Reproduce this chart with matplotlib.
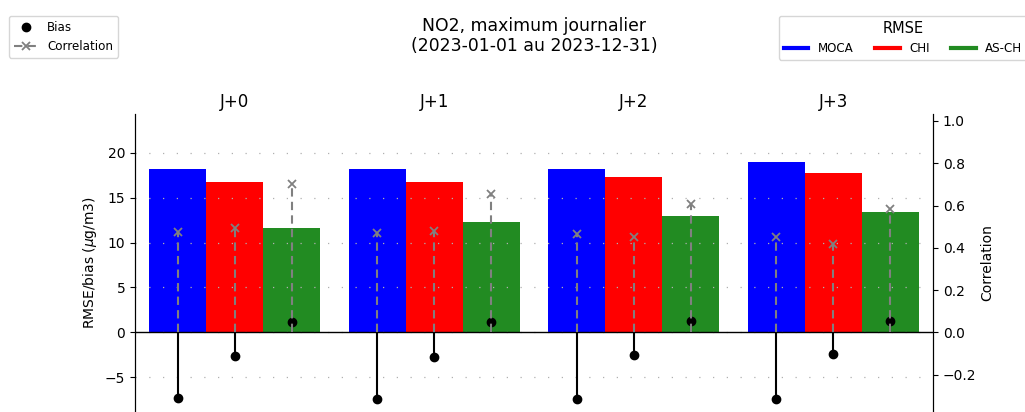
import numpy as np
import matplotlib
matplotlib.use("Agg")
from matplotlib import pyplot as plt
from matplotlib.lines import Line2D

# scores per lead day, one list per model
leads = ["J+0", "J+1", "J+2", "J+3"]
models = ["MOCA", "CHI", "AS-CH"]
colors = ["blue", "red", "forestgreen"]

rmse_moca = [18.2, 18.2, 18.2, 18.95]
rmse_chi = [16.7, 16.75, 17.35, 17.7]
rmse_asch = [11.6, 12.3, 12.95, 13.4]

bias_moca = [-7.35, -7.39, -7.39, -7.39]
bias_chi = [-2.6, -2.71, -2.53, -2.42]
bias_asch = [1.1, 1.15, 1.25, 1.3]

corr_moca = [0.473, 0.468, 0.464, 0.451]
corr_chi = [0.492, 0.481, 0.451, 0.419]
corr_asch = [0.702, 0.654, 0.606, 0.582]

rmse = [rmse_moca, rmse_chi, rmse_asch]
bias = [bias_moca, bias_chi, bias_asch]
corr = [corr_moca, corr_chi, corr_asch]

width = 0.285
x = np.arange(len(leads))

fig = plt.figure(figsize=(10.25, 4.12), dpi=100)
ax = fig.add_axes([135 / 1025, 0.0, 798 / 1025, 298 / 412])
ax2 = ax.twinx()

for j, m in enumerate(models):
    xj = x + (j - 1) * width
    ax.bar(xj, rmse[j], width, color=colors[j], zorder=1)
    ax.vlines(xj, 0, bias[j], color="black", lw=1.5, zorder=3)
    ax.plot(xj, bias[j], "o", color="black", ms=6, zorder=4)
    ax2.vlines(xj, 0, corr[j], color="grey", lw=1.5, linestyles=(0, (4, 2.5)), zorder=3)
    ax2.plot(xj, corr[j], "x", color="grey", ms=6, mew=1.3, zorder=4)

ax.axhline(0, color="black", lw=1, zorder=2)
ax.grid(axis="y", color="#b0b0b0", lw=0.9, linestyle=(0, (1, 10)))
ax.set_xlim(-0.5, len(leads) - 0.5)
ax.set_ylim(-8.875, 24.31)
ax2.set_ylim(-0.377, 1.033)
ax.set_xticks([])
ax.set_yticks([-5, 0, 5, 10, 15, 20])
ax2.set_yticks([-0.2, 0.0, 0.2, 0.4, 0.6, 0.8, 1.0])
ax.set_ylabel(r"RMSE/bias ($\mu$g/m3)")
ax2.set_ylabel("Correlation", labelpad=3)

for a in (ax, ax2):
    a.spines["top"].set_visible(False)
    a.spines["bottom"].set_visible(False)

for i, lead in enumerate(leads):
    ax.text(x[i], 24.31 + 1.3, lead, ha="center", va="center", fontsize=12)

fig.text(534 / 1025, 1 - 36 / 412, "NO2, maximum journalier\n(2023-01-01 au 2023-12-31)",
         ha="center", va="center", fontsize=12.4)

h_left = [
    Line2D([], [], marker="o", color="black", ls="none", ms=6),
    Line2D([], [], marker="x", color="grey", ls=(0, (4, 2.5)), lw=1.5, ms=6, mew=1.3),
]
fig.legend(h_left, ["Bias", "Correlation"], loc="upper left",
           bbox_to_anchor=(9 / 1025, 1 - 16 / 412), borderaxespad=0, fontsize=8.6)

h_right = [Line2D([], [], color=c, lw=3) for c in colors]
fig.legend(h_right, models, loc="upper left", ncol=3, title="RMSE", title_fontsize=10.5,
           bbox_to_anchor=(779 / 1025, 1 - 16 / 412), borderaxespad=0, fontsize=8.6,
           columnspacing=1.8, handlelength=2.05)

fig.savefig("out.png", dpi=100)
